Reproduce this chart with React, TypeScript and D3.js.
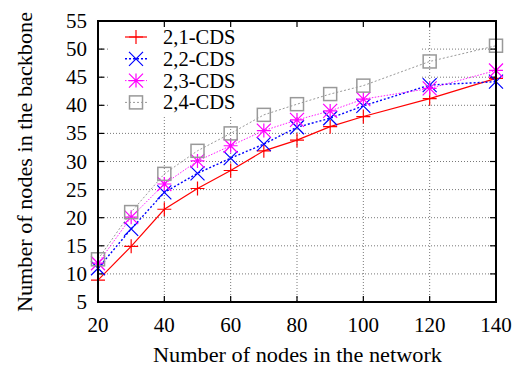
import * as d3 from "d3";
import { useEffect, useRef } from "react";

const nodes = [20, 30, 40, 50, 60, 70, 80, 90, 100, 120, 140];
const cds1 = [8.9, 14.9, 21.5, 25.2, 28.4, 31.9, 33.8, 36.2, 38.0, 41.2, 44.8];
const cds2 = [11.0, 18.0, 24.5, 27.9, 30.6, 33.1, 36.1, 37.7, 39.9, 43.6, 44.2];
const cds3 = [11.9, 20.1, 26.0, 30.1, 32.8, 35.5, 37.4, 39.0, 41.1, 43.0, 46.2];
const cds4 = [12.6, 21.0, 27.8, 31.9, 35.0, 38.3, 40.2, 42.0, 43.5, 47.8, 50.6];
const seriesNames = ["2,1-CDS", "2,2-CDS", "2,3-CDS", "2,4-CDS"];
const xTicks = [20, 40, 60, 80, 100, 120, 140];
const yTicks = [5, 10, 15, 20, 25, 30, 35, 40, 45, 50, 55];

const font = "'Liberation Serif', 'Times New Roman', serif";

const drawMarker = (g, kind, x, y, color) => {
    const s = 7;
    if (kind === "plus") {
        g.append("path").attr("d", `M${x - s},${y}H${x + s}M${x},${y - s}V${y + s}`)
            .attr("stroke", color).attr("stroke-width", 1.2).attr("fill", "none");
    } else if (kind === "cross") {
        g.append("path").attr("d", `M${x - s},${y - s}L${x + s},${y + s}M${x - s},${y + s}L${x + s},${y - s}`)
            .attr("stroke", color).attr("stroke-width", 1.2).attr("fill", "none");
    } else if (kind === "star") {
        g.append("path").attr("d", `M${x - s},${y}H${x + s}M${x},${y - s}V${y + s}M${x - s},${y - s}L${x + s},${y + s}M${x - s},${y + s}L${x + s},${y - s}`)
            .attr("stroke", color).attr("stroke-width", 1.2).attr("fill", "none");
    } else {
        g.append("rect").attr("x", x - 6.5).attr("y", y - 6.5).attr("width", 13).attr("height", 13)
            .attr("stroke", color).attr("stroke-width", 1.5).attr("fill", "none");
    }
};

const App = () => {
    const ref = useRef(null);

    useEffect(() => {
        const svg = d3.select(ref.current);
        svg.selectAll("*").remove();

        const left = 98, right = 496, top = 21, bottom = 302;
        const x = d3.scaleLinear().domain([20, 140]).range([left, right]);
        const y = d3.scaleLinear().domain([5, 55]).range([bottom, top]);

        // grid
        const grid = svg.append("g").attr("stroke", "#555").attr("stroke-width", 0.8).attr("stroke-dasharray", "1,2");
        xTicks.slice(1, -1).forEach(t => {
            grid.append("line").attr("x1", x(t)).attr("x2", x(t)).attr("y1", top).attr("y2", bottom);
        });
        yTicks.slice(1, -1).forEach(t => {
            grid.append("line").attr("x1", left).attr("x2", right).attr("y1", y(t)).attr("y2", y(t));
        });
        // key area hides grid
        svg.append("rect").attr("x", 110).attr("y", top + 1).attr("width", 310).attr("height", 94).attr("fill", "white");

        // ticks (inward, mirrored)
        const tk = svg.append("g").attr("stroke", "black").attr("stroke-width", 1.2);
        xTicks.forEach(t => {
            tk.append("line").attr("x1", x(t)).attr("x2", x(t)).attr("y1", bottom).attr("y2", bottom - 6);
            tk.append("line").attr("x1", x(t)).attr("x2", x(t)).attr("y1", top).attr("y2", top + 6);
        });
        yTicks.forEach(t => {
            tk.append("line").attr("x1", left).attr("x2", left + 6).attr("y1", y(t)).attr("y2", y(t));
            tk.append("line").attr("x1", right).attr("x2", right - 6).attr("y1", y(t)).attr("y2", y(t));
        });

        // series
        const all = [cds1, cds2, cds3, cds4];
        const colors = ["#ff0000", "#0000ff", "#ff00ff", "#999999"];
        const dashes = [null, "2,2", "1.5,1.5", "2,2"];
        const widths = [1.2, 1.4, 0.9, 1];
        const kinds = ["plus", "cross", "star", "square"];
        const line = d3.line().x(d => x(d[0])).y(d => y(d[1]));

        all.forEach((vals, i) => {
            const pts = nodes.map((n, j) => [n, vals[j]]);
            svg.append("path").attr("d", line(pts)).attr("fill", "none")
                .attr("stroke", colors[i]).attr("stroke-width", widths[i])
                .attr("stroke-dasharray", dashes[i]);
            const mg = svg.append("g");
            pts.forEach(p => drawMarker(mg, kinds[i], x(p[0]), y(p[1]), colors[i]));
        });

        // legend
        seriesNames.forEach((name, i) => {
            const ly = 37 + i * 21.8;
            svg.append("line").attr("x1", 125).attr("x2", 147).attr("y1", ly).attr("y2", ly)
                .attr("stroke", colors[i]).attr("stroke-width", widths[i]).attr("stroke-dasharray", dashes[i]);
            drawMarker(svg.append("g"), kinds[i], 136, ly, colors[i]);
            svg.append("text").attr("x", 163).attr("y", ly + 7).text(name)
                .attr("font-family", font).attr("font-size", 20.5);
        });

        // frame
        svg.append("rect").attr("x", left).attr("y", top).attr("width", right - left).attr("height", bottom - top)
            .attr("fill", "none").attr("stroke", "black").attr("stroke-width", 2);

        // tick labels
        xTicks.forEach(t => {
            svg.append("text").attr("x", x(t)).attr("y", 332).attr("text-anchor", "middle")
                .attr("font-family", font).attr("font-size", 21).text(t);
        });
        yTicks.forEach(t => {
            svg.append("text").attr("x", 87).attr("y", y(t) + 7).attr("text-anchor", "end")
                .attr("font-family", font).attr("font-size", 21).text(t);
        });

        svg.append("text").attr("x", 153).attr("y", 362)
            .attr("textLength", 289).attr("lengthAdjust", "spacingAndGlyphs")
            .attr("font-family", font).attr("font-size", 21).text("Number of nodes in the network");
        svg.append("text").attr("transform", `translate(32,312) rotate(-90)`)
            .attr("textLength", 300).attr("lengthAdjust", "spacingAndGlyphs")
            .attr("font-family", font).attr("font-size", 21)
            .text("Number of nodes in the backbone");
    });

    return (
        <svg ref={ref} width="517" height="368"
            style={{ position: "absolute", left: 0, top: 0, background: "white" }} />
    );
};

export default App;
